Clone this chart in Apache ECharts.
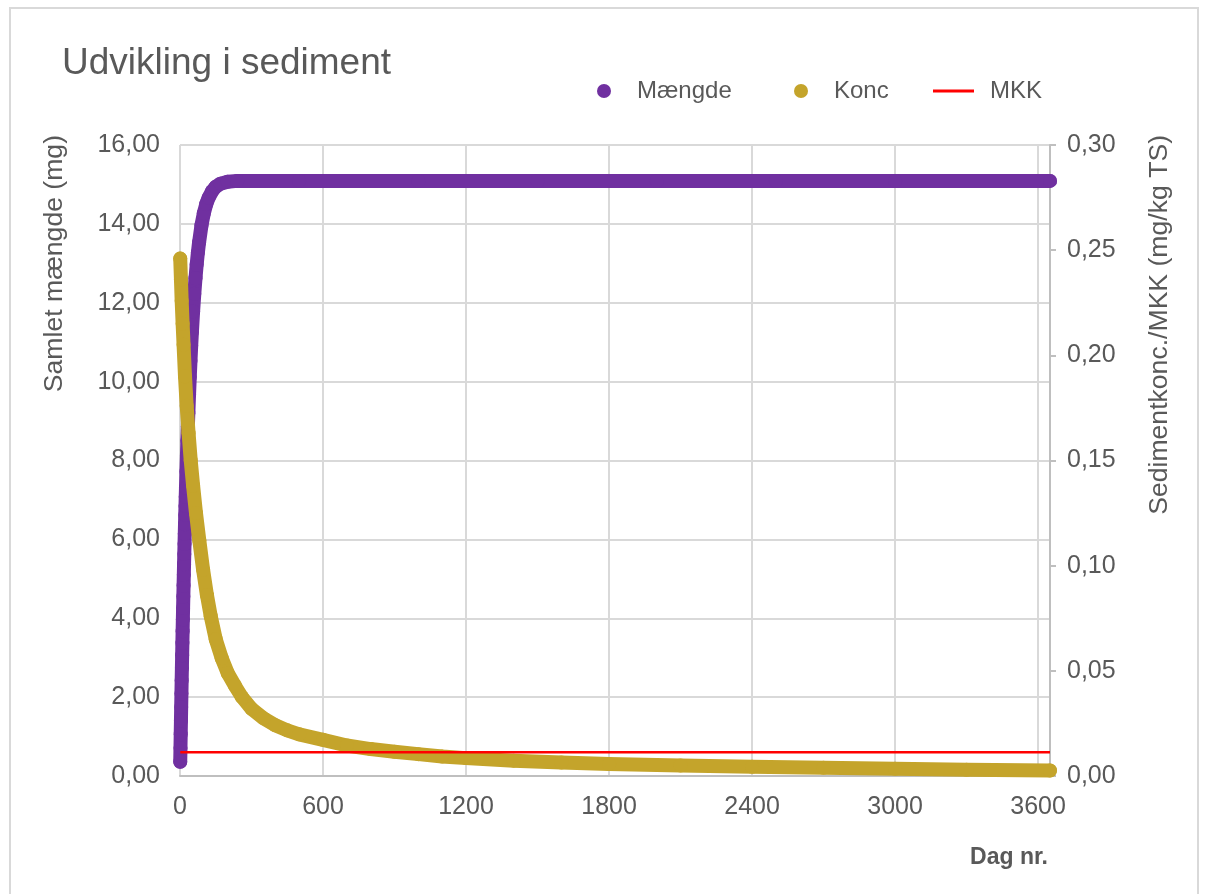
<!DOCTYPE html>
<html>
<head>
<meta charset="utf-8">
<title>Udvikling i sediment</title>
<script src="https://cdn.jsdelivr.net/npm/echarts@6/dist/echarts.min.js"></script>
<style>
  html, body { margin: 0; padding: 0; background: #fff; }
  #chart { width: 1208px; height: 894px; }
</style>
</head>
<body>
<div id="chart"></div>
<script>
// Mængde (mg)
const mDays = [1, 2, 3, 4, 5, 6, 7, 8, 9, 10, 11, 12, 13, 14, 15, 16, 17, 18, 19, 20,
  21, 22, 23, 24, 25, 27, 29, 31, 33, 35, 38, 41, 44, 47, 50, 55, 60, 65, 70, 75, 80,
  90, 100, 110, 120, 135, 150, 170, 200, 240, 500, 1000, 1500, 2000, 2500, 3000, 3650];
const mValues = [0.36, 0.71, 1.06, 1.41, 1.75, 2.09, 2.42, 2.74, 3.06, 3.37, 3.67, 3.97, 4.26, 4.55, 4.83, 5.10, 5.37, 5.63, 5.89, 6.14,
  6.38, 6.62, 6.85, 7.08, 7.30, 7.72, 8.12, 8.50, 8.86, 9.20, 9.68, 10.12, 10.53, 10.91, 11.26, 11.78, 12.23, 12.62, 12.97, 13.27, 13.53,
  13.96, 14.27, 14.50, 14.66, 14.83, 14.94, 15.02, 15.07, 15.09, 15.09, 15.09, 15.09, 15.09, 15.09, 15.09, 15.09];

// Konc (mg/kg TS) - gold dots, right axis
const kDays = [1, 4, 7, 11, 15, 21, 28, 36, 45, 55, 67, 81, 97, 113, 129, 150, 175, 200, 230, 260,
  300, 350, 400, 450, 500, 600, 700, 800, 900, 1000, 1100, 1200, 1400, 1600, 1800, 2100, 2400, 2700, 3000, 3300, 3650];
const kValues = [0.246, 0.236, 0.226, 0.215, 0.205, 0.190, 0.176, 0.163, 0.150, 0.138, 0.125, 0.112, 0.098, 0.086, 0.076, 0.065, 0.056, 0.049, 0.043, 0.0375,
  0.032, 0.0275, 0.0241, 0.0217, 0.0198, 0.0172, 0.0145, 0.0128, 0.0115, 0.0104, 0.0093, 0.0085, 0.0073, 0.0064, 0.0057, 0.0050, 0.0044, 0.0039, 0.0034, 0.0030, 0.0026];

// MKK
const mkkDays = [1, 3650];
const mkkValues = [0.0113, 0.0113];

const pairs = (xs, ys) => xs.map((x, i) => [x, ys[i]]);
const comma = v => v.toFixed(2).replace('.', ',');

const FONT = 'Liberation Sans, Arial, sans-serif';
const GREY = '#595959';

const chart = echarts.init(document.getElementById('chart'));

const legendText = pad => ({ color: GREY, fontSize: 24, fontFamily: FONT, padding: [0, 0, 0, pad] });

const option = {
  backgroundColor: '#fff',
  animation: false,
  textStyle: { fontFamily: FONT },
  title: {
    text: 'Udvikling i sediment',
    left: 57,
    top: 40,
    textStyle: { color: GREY, fontSize: 37, fontWeight: 'normal', fontFamily: FONT }
  },
  legend: [{
    data: [{ name: 'Mængde', icon: 'circle' }],
    left: 592, top: 74,
    itemWidth: 14, itemHeight: 14,
    itemStyle: { borderWidth: 0 },
    textStyle: legendText(21)
  }, {
    data: [{ name: 'Konc', icon: 'circle' }],
    left: 789, top: 74,
    itemWidth: 14, itemHeight: 14,
    itemStyle: { borderWidth: 0 },
    textStyle: legendText(21)
  }, {
    data: [{ name: 'MKK', icon: 'rect' }],
    left: 928, top: 74,
    itemWidth: 41, itemHeight: 3,
    textStyle: legendText(11)
  }],
  grid: { left: 180, right: 158, top: 145, bottom: 118 },
  xAxis: {
    type: 'value',
    min: 0,
    max: 3650,
    interval: 600,
    axisLine: { show: true, lineStyle: { color: '#bfbfbf', width: 2 } },
    axisTick: { show: false },
    axisLabel: { color: GREY, fontSize: 25, margin: 19, showMaxLabel: false, formatter: v => String(v) },
    splitLine: { show: true, lineStyle: { color: '#d9d9d9', width: 2 } }
  },
  yAxis: [{
    type: 'value',
    min: 0,
    max: 16,
    interval: 2,
    axisLine: { show: false },
    axisTick: { show: false },
    axisLabel: { color: GREY, fontSize: 25, margin: 20, formatter: comma },
    splitLine: { show: true, lineStyle: { color: '#d9d9d9', width: 2 } }
  }, {
    type: 'value',
    min: 0,
    max: 0.3,
    interval: 0.05,
    position: 'right',
    axisLine: { show: true, lineStyle: { color: '#bfbfbf', width: 2 } },
    axisTick: { show: true, inside: false, length: 6, lineStyle: { color: '#bfbfbf', width: 2 } },
    axisLabel: { color: GREY, fontSize: 25, margin: 17, formatter: comma },
    splitLine: { show: false }
  }],
  graphic: [
    { type: 'rect', silent: true, z: -10,
      shape: { x: 10, y: 8, width: 1188, height: 900 },
      style: { fill: 'none', stroke: '#d9d9d9', lineWidth: 2 } },
    { type: 'text', x: 55, y: 135, rotation: Math.PI / 2,
      style: { text: 'Samlet mængde (mg)', fill: GREY, font: '26.6px ' + FONT, align: 'right', verticalAlign: 'middle' } },
    { type: 'text', x: 1160, y: 135, rotation: Math.PI / 2,
      style: { text: 'Sedimentkonc./MKK (mg/kg TS)', fill: GREY, font: '26.6px ' + FONT, align: 'right', verticalAlign: 'middle' } },
    { type: 'text', x: 1048, y: 858,
      style: { text: 'Dag nr.', fill: GREY, font: 'bold 23px ' + FONT, align: 'right', verticalAlign: 'middle' } }
  ],
  series: [{
    name: 'Mængde',
    type: 'line',
    yAxisIndex: 0,
    z: 2,
    data: pairs(mDays, mValues),
    color: '#7030A0',
    symbol: 'circle',
    symbolSize: 14,
    showSymbol: true,
    showAllSymbol: true,
    clip: false,
    lineStyle: { width: 14, cap: 'round', join: 'round' },
    itemStyle: { borderWidth: 0 },
    emphasis: { disabled: true }
  }, {
    name: 'Konc',
    type: 'line',
    yAxisIndex: 1,
    z: 3,
    data: pairs(kDays, kValues),
    color: '#C4A42B',
    symbol: 'circle',
    symbolSize: 14,
    showSymbol: true,
    showAllSymbol: true,
    clip: false,
    lineStyle: { width: 14, cap: 'round', join: 'round' },
    itemStyle: { borderWidth: 0 },
    emphasis: { disabled: true }
  }, {
    name: 'MKK',
    type: 'line',
    yAxisIndex: 1,
    z: 4,
    data: pairs(mkkDays, mkkValues),
    color: '#FF0000',
    symbol: 'none',
    clip: false,
    lineStyle: { width: 2.5 },
    emphasis: { disabled: true }
  }]
};

chart.setOption(option);
</script>
</body>
</html>
